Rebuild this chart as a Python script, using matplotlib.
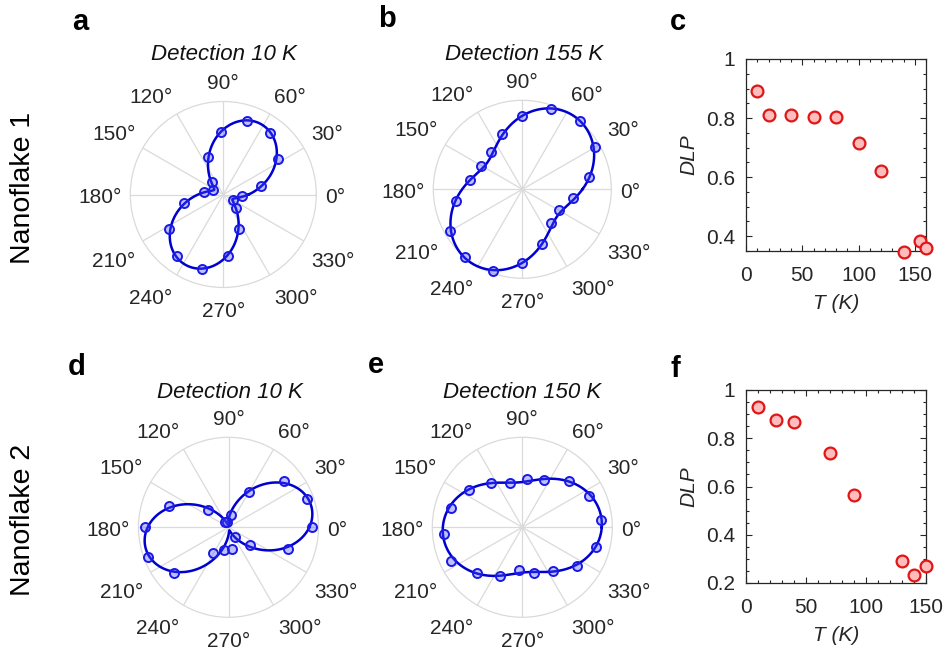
import numpy as np
import matplotlib.pyplot as plt
from matplotlib.ticker import MultipleLocator, FuncFormatter

plt.rcParams['font.family'] = ['Liberation Sans', 'DejaVu Sans']

W, H = 947, 654

# polarization scans: analyzer angle (deg) and normalized PL intensity
a_theta = [13, 33, 53, 72, 92, 112, 134, 156, 174, 193, 213, 233, 254, 274, 294, 312, 333, 355]
a_r = [0.42, 0.70, 0.83, 0.83, 0.67, 0.43, 0.18, 0.12, 0.21, 0.43, 0.69, 0.83, 0.83, 0.66, 0.41, 0.20, 0.12, 0.20]

b_theta = [10, 30, 50, 70, 90, 110, 130, 150, 170, 190, 210, 230, 250, 270, 290, 310, 330, 350]
b_r = [0.765, 0.94, 1.0, 0.955, 0.82, 0.66, 0.55, 0.53, 0.60, 0.76, 0.935, 1.0, 0.975, 0.825, 0.65, 0.50, 0.475, 0.58]

d_theta = [0, 20, 40, 60, 77, 105, 128, 141, 160, 180, 200, 220, 240, 259, 280, 302, 320, 340]
d_r = [0.93, 0.925, 0.80, 0.45, 0.135, 0.06, 0.07, 0.30, 0.70, 0.93, 0.95, 0.79, 0.335, 0.26, 0.25, 0.13, 0.31, 0.70]

e_theta = [5, 25, 45, 65, 85, 105, 125, 145, 165, 185, 205, 225, 245, 265, 285, 305, 325, 345]
e_r = [0.878, 0.82, 0.733, 0.574, 0.543, 0.515, 0.607, 0.726, 0.822, 0.878, 0.88, 0.715, 0.595, 0.48, 0.52, 0.59, 0.745, 0.852]

# degree of linear polarization vs temperature
c_T = [10, 20, 40, 60, 80, 100, 120, 140, 155, 160]
c_dlp = [0.89, 0.811, 0.811, 0.802, 0.805, 0.715, 0.62, 0.347, 0.384, 0.359]

f_T = [10, 25, 40, 70, 90, 130, 140, 150]
f_dlp = [0.93, 0.874, 0.866, 0.739, 0.566, 0.29, 0.232, 0.27]

TXT = '#262626'
ANG_FS = 15


def px_rect(left, top, w, h):
    return [left / W, 1 - (top + h) / H, w / W, h / H]


def cos2_fit(theta_deg, r):
    # least squares fit of I = A + B cos(2t) + C sin(2t)
    t = np.deg2rad(theta_deg)
    M = np.column_stack([np.ones_like(t), np.cos(2 * t), np.sin(2 * t)])
    coef, *_ = np.linalg.lstsq(M, np.asarray(r), rcond=None)
    tt = np.linspace(0, 2 * np.pi, 721)
    return tt, coef[0] + coef[1] * np.cos(2 * tt) + coef[2] * np.sin(2 * tt)


def polar_panel(rect, theta_deg, r):
    ax = fig.add_axes(rect, projection='polar')
    ax.set_axisbelow(True)
    tt, fit = cos2_fit(theta_deg, r)
    ax.plot(tt, fit, color='#0000d0', lw=1.8, zorder=3, clip_on=False)
    ax.plot(np.deg2rad(theta_deg), r, 'o', ls='none', ms=6.5, mec='#1a1ae6',
            mfc=(0.3, 0.3, 1.0, 0.35), mew=1.4, zorder=4, clip_on=False)
    ax.set_ylim(0, 1)
    ax.set_yticks([])
    ax.set_xticks(np.deg2rad(np.arange(0, 360, 30)))
    ax.set_xticklabels([])
    ax.grid(color='#dadada', lw=0.9)
    ax.spines['polar'].set_color('#dadada')
    ax.spines['polar'].set_linewidth(0.9)

    # angle labels: the box corner nearest the rim sits a fixed gap outside it;
    # 'top' alignment has no descender room, so lower labels get pushed down a bit
    gap = 6.2
    for a in range(0, 360, 30):
        c, s = np.cos(np.deg2rad(a)), np.sin(np.deg2rad(a))
        ha = 'left' if c > 0.01 else ('right' if c < -0.01 else 'center')
        if s > 0.01:
            va, drop = 'bottom', 0.0
        elif s < -0.01:
            va, drop = 'top', 4.5
        else:
            va, drop = 'center', 2.0
        ax.annotate(f'{a}°', xy=(np.deg2rad(a), 1),
                    xytext=(gap * c, gap * s - drop),
                    textcoords='offset points', ha=ha, va=va,
                    fontsize=ANG_FS, color=TXT, annotation_clip=False)
    return ax


def dlp_panel(rect, T, dlp, xmax, ymin, yticks):
    ax = fig.add_axes(rect)
    ax.plot(T, dlp, 'o', ls='none', ms=8.5, mec='#e01515', mfc='#ffbcbc',
            mew=1.6, clip_on=False, zorder=3)
    ax.set_xlim(0, xmax)
    ax.set_ylim(ymin, 1)
    ax.set_xticks([0, 50, 100, 150])
    ax.set_yticks(yticks)
    ax.yaxis.set_major_formatter(FuncFormatter(lambda v, p: f'{v:g}'))
    ax.xaxis.set_minor_locator(MultipleLocator(10))
    ax.yaxis.set_minor_locator(MultipleLocator(0.05))
    ax.tick_params(which='both', direction='in', top=True, right=True,
                   colors=TXT, labelsize=15, width=0.8)
    ax.tick_params(which='major', length=4)
    ax.tick_params(which='minor', length=2)
    ax.tick_params(axis='x', which='major', pad=11)
    ax.tick_params(axis='y', which='major', pad=8)
    for s in ax.spines.values():
        s.set_color(TXT)
        s.set_linewidth(0.9)
    ax.set_xlabel('T (K)', fontsize=15, fontstyle='italic', color=TXT, labelpad=6)
    ax.set_ylabel('DLP', fontsize=15, fontstyle='italic', color=TXT, labelpad=5)
    return ax


fig = plt.figure(figsize=(W / 100, H / 100), dpi=100)

polar_panel(px_rect(130.3, 101.5, 186, 186), a_theta, a_r)
polar_panel(px_rect(433.3, 100.3, 178, 178), b_theta, b_r)
polar_panel(px_rect(138.5, 437.3, 180, 180), d_theta, d_r)
polar_panel(px_rect(432.3, 437.3, 180, 180), e_theta, e_r)

dlp_panel(px_rect(746, 59, 180, 192), c_T, c_dlp, 160, 0.35, [0.4, 0.6, 0.8, 1.0])
dlp_panel(px_rect(746, 390, 180, 193), f_T, f_dlp, 150, 0.2, [0.2, 0.4, 0.6, 0.8, 1.0])

titles = [(224, 55, 'Detection 10 K'), (524, 55, 'Detection 155 K'),
          (230, 393, 'Detection 10 K'), (522, 393, 'Detection 150 K')]
for x, y, s in titles:
    fig.text(x / W, 1 - y / H, s, ha='center', va='center', fontsize=16,
             fontstyle='italic', color='#111111')

letters = [(72, 30, 'a'), (378, 27, 'b'), (670, 30, 'c'),
           (68, 375, 'd'), (368, 373, 'e'), (670, 377, 'f')]
for x, y, s in letters:
    fig.text(x / W, 1 - y / H, s, ha='left', va='baseline', fontsize=21,
             fontweight='bold', color='black')

fig.text(23 / W, 1 - 188 / H, 'Nanoflake 1', rotation=90, ha='center',
         va='center', fontsize=20.5, color='black')
fig.text(23 / W, 1 - 520 / H, 'Nanoflake 2', rotation=90, ha='center',
         va='center', fontsize=20.5, color='black')

fig.savefig('out.png', dpi=100, facecolor='white')
